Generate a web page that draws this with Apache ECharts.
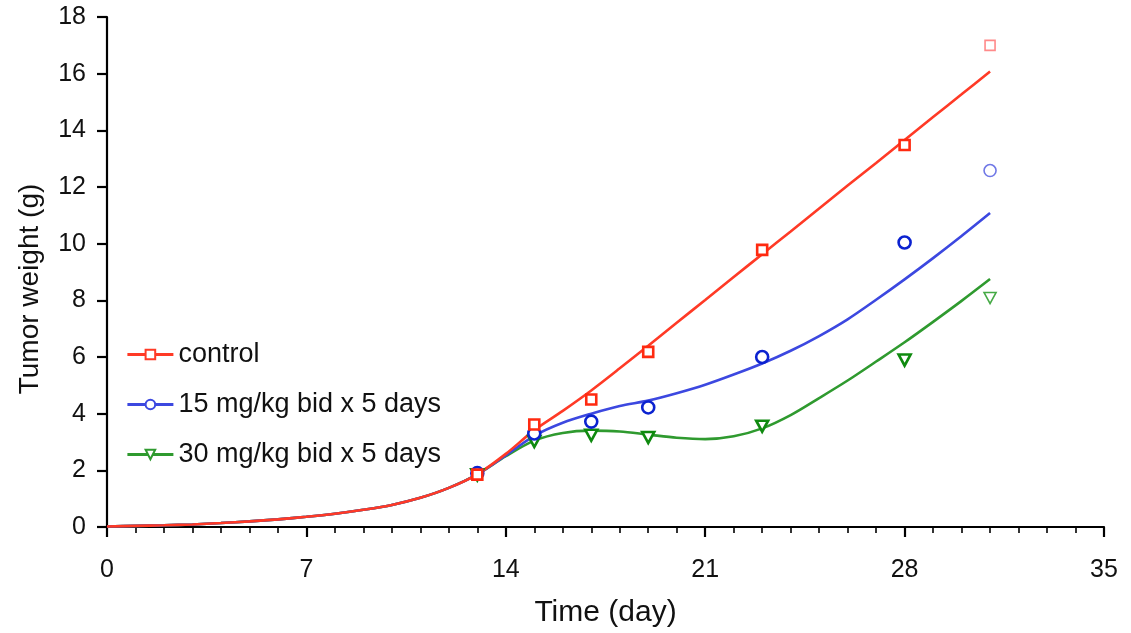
<!DOCTYPE html>
<html>
<head>
<meta charset="utf-8">
<script src="https://cdn.jsdelivr.net/npm/echarts@6/dist/echarts.min.js"></script>
<style>html,body{margin:0;padding:0;background:#fff;}#c{width:1131px;height:633px;}</style>
</head>
<body>
<div id="c"></div>
<script>
// Measured data points
const days = [13, 15, 17, 19, 23, 28, 31];
const control = [1.85, 3.62, 4.5, 6.18, 9.78, 13.48, 17.0];
const dose15 = [1.9, 3.3, 3.72, 4.22, 6.0, 10.04, 12.58];
const dose30 = [1.84, 3.02, 3.24, 3.16, 3.56, 5.89, 8.08];

// Fitted curves (day 0..31)
const curveDays = [0,1,2,3,4,5,6,7,8,9,10,11,12,13,14,15,16,17,18,19,20,21,22,23,24,25,26,27,28,29,30,31];
const controlFit = [0.02,0.04,0.06,0.09,0.14,0.2,0.27,0.36,0.47,0.61,0.78,1.03,1.38,1.86,2.58,3.42,4.1,4.82,5.6,6.4,7.21,8.01,8.82,9.63,10.43,11.24,12.05,12.85,13.66,14.47,15.27,16.08];
const dose15Fit = [0.02,0.04,0.06,0.09,0.14,0.2,0.27,0.36,0.47,0.61,0.78,1.03,1.38,1.86,2.53,3.22,3.68,4.0,4.27,4.46,4.72,5.02,5.38,5.77,6.22,6.74,7.33,8.02,8.74,9.49,10.27,11.08];
const dose30Fit = [0.02,0.04,0.06,0.09,0.14,0.2,0.27,0.36,0.47,0.61,0.78,1.03,1.38,1.86,2.5,3.05,3.32,3.4,3.37,3.26,3.15,3.1,3.2,3.48,3.95,4.55,5.17,5.84,6.52,7.24,7.98,8.75];

const names = ['control', '15 mg/kg bid x 5 days', '30 mg/kg bid x 5 days'];

const lineColors = ['#ff3a26', '#3c48e0', '#2f9a2f'];
const markColors = ['#ff2a10', '#0b22d0', '#0f8a0f'];
const fadedColors = ['#ff8a8a', '#7078e6', '#45aa45'];
const symbols = ['rect', 'circle', 'path://M0,0 L10,0 L5,9 Z'];

const font = 'Liberation Sans, Arial, Helvetica, sans-serif';

function pairs(xs, ys) { return xs.map((x, i) => [x, ys[i]]); }

function pointData(ys, k) {
  return days.map((d, i) => {
    const item = { value: [d, ys[i]] };
    if (i === days.length - 1) {
      item.itemStyle = { color: '#fff', borderColor: fadedColors[k], borderWidth: 1.6 };
    }
    return item;
  });
}

const fits = [controlFit, dose15Fit, dose30Fit];
const pts = [control, dose15, dose30];

const series = [];
// lines: green first, then blue, red on top
[2, 1, 0].forEach(k => {
  series.push({
    name: names[k],
    type: 'line',
    data: pairs(curveDays, fits[k]),
    smooth: 0.3,
    showSymbol: false,
    symbol: symbols[k],
    symbolSize: k === 2 ? [11, 10] : 10,
    itemStyle: { color: '#fff', borderColor: lineColors[k], borderWidth: 2 },
    lineStyle: { color: lineColors[k], width: 2.6 },
    z: 2,
    silent: true
  });
});
[2, 1, 0].forEach(k => {
  series.push({
    name: names[k],
    type: 'scatter',
    data: pointData(pts[k], k),
    symbol: symbols[k],
    symbolSize: k === 2 ? [12, 11] : (k === 0 ? 10 : 12),
    itemStyle: { color: '#fff', borderColor: markColors[k], borderWidth: 2.6, opacity: 1 },
    z: 3,
    silent: true
  });
});

const chart = echarts.init(document.getElementById('c'), null, { renderer: 'canvas' });
chart.setOption({
  animation: false,
  backgroundColor: '#fff',
  grid: { left: 107, right: 27, top: 17, bottom: 106, containLabel: false },
  legend: {
    data: names,
    orient: 'vertical',
    left: 121,
    top: 336,
    itemWidth: 46,
    itemHeight: 12,
    itemGap: 23,
    lineStyle: { width: 2.8 },
    itemStyle: { borderWidth: 2 },
    textStyle: { fontFamily: font, fontSize: 27, color: '#111' },
    selectedMode: false
  },
  xAxis: {
    type: 'value',
    min: 0, max: 35, interval: 7,
    name: 'Time (day)',
    nameLocation: 'middle',
    nameGap: 71,
    nameTextStyle: { fontFamily: font, fontSize: 30, color: '#111' },
    axisLine: { lineStyle: { color: '#000', width: 2.2 } },
    axisTick: { show: true, length: 10, lineStyle: { color: '#000', width: 2.2 } },
    minorTick: { show: true, splitNumber: 7, length: 6, lineStyle: { color: '#000', width: 1.6 } },
    axisLabel: { fontFamily: font, fontSize: 25, color: '#111', margin: 31 },
    splitLine: { show: false }
  },
  yAxis: {
    type: 'value',
    min: 0, max: 18, interval: 2,
    name: 'Tumor weight (g)',
    nameLocation: 'middle',
    nameGap: 63,
    nameRotate: 90,
    nameTextStyle: { fontFamily: font, fontSize: 28, color: '#111', padding: [0, 34, 0, 0] },
    axisLine: { show: true, lineStyle: { color: '#000', width: 2.2 } },
    axisTick: { show: true, length: 10, lineStyle: { color: '#000', width: 2.2 } },
    axisLabel: { fontFamily: font, fontSize: 25, color: '#111', margin: 21 },
    splitLine: { show: false }
  },
  series: series
});
</script>
</body>
</html>
